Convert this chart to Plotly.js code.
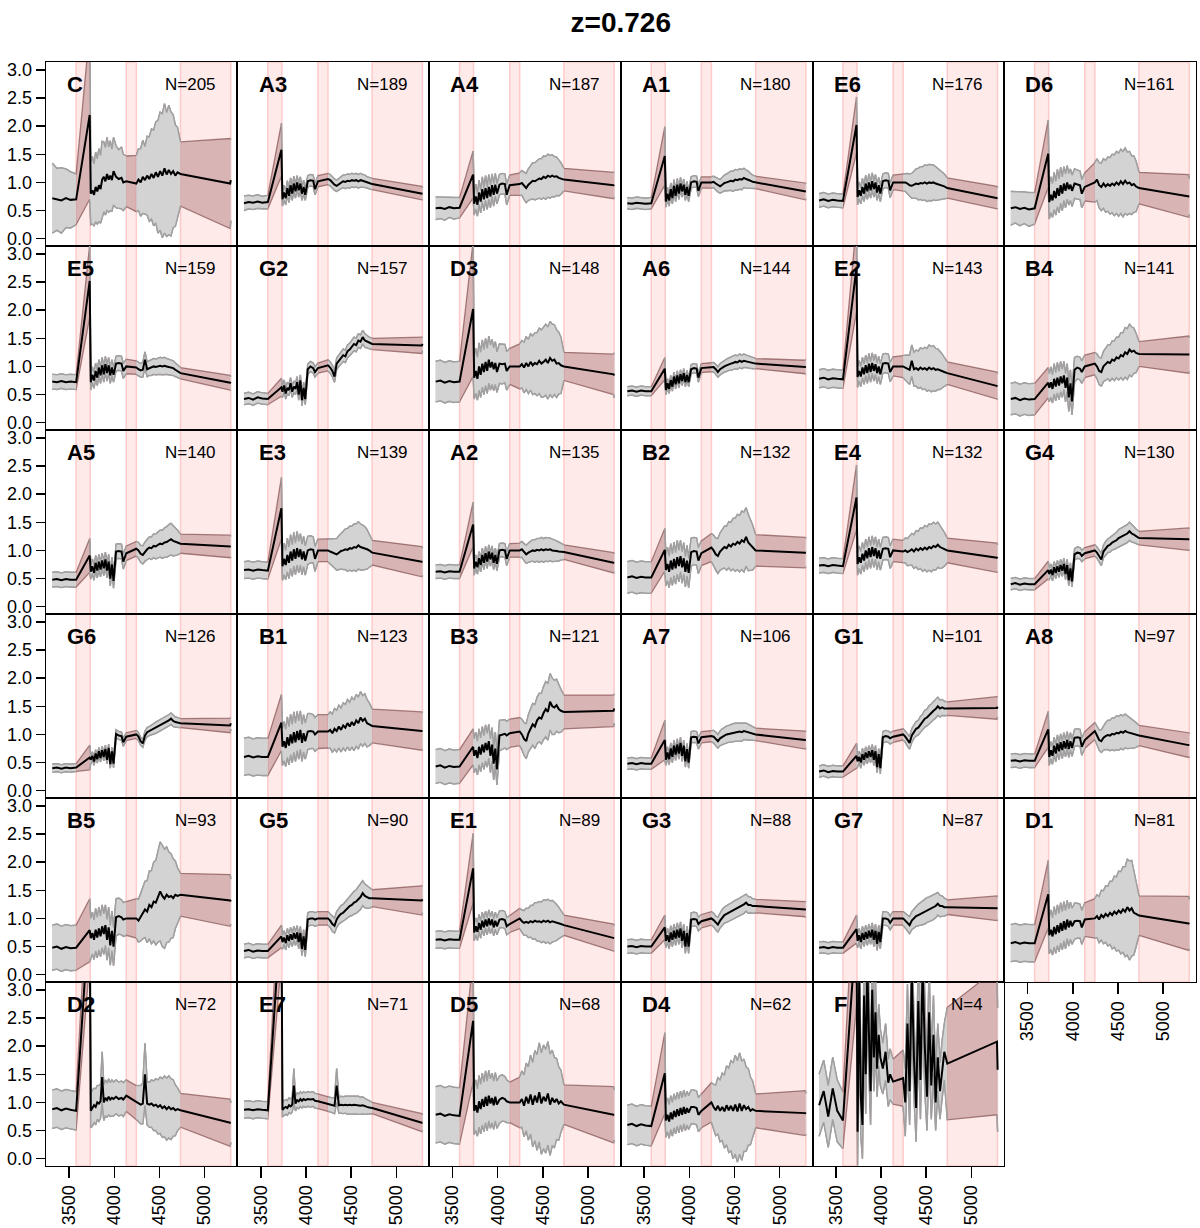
<!DOCTYPE html>
<html>
<head>
<meta charset="utf-8">
<script src="https://cdn.plot.ly/plotly-3.0.1.min.js"></script>
<style>body{margin:0;background:#fff}</style>
</head>
<body>
<div id="grid" style="width:1200px;height:1228px"></div>
<script>
// wavelength grid (A): blue side | after break | red side | last points
var wavelength = [3314,3365,3415,3465,3515,3578,
  3728,3740,3758,3776,3794,3812,3830,3848,3866,3884,3902,3920,3938,3956,3974,3992,4020,4050,4080,4100,4133,
  4244,4268,4292,4316,4340,4364,4388,4412,4436,4460,4484,4508,4532,4556,4580,4604,4628,4652,4676,4700,4733,
  5283,5290];
var maskedRanges = [[3578, 3733], [4133, 4244], [4733, 5289]];
var xTicks = [3500, 4000, 4500, 5000];
var yTicks = [0, 0.5, 1, 1.5, 2, 2.5, 3];

var panelNames = ['C','A3','A4','A1','E6','D6',
  'E5','G2','D3','A6','E2','B4',
  'A5','E3','A2','B2','E4','G4',
  'G6','B1','B3','A7','G1','A8',
  'B5','G5','E1','G3','G7','D1',
  'D2','E7','D5','D4','F'];
var panelCounts = [205,189,187,180,176,161,
  159,157,148,144,143,141,
  140,139,135,132,132,130,
  126,123,121,106,101,97,
  93,90,89,88,87,81,
  72,71,68,62,4];

var meanFlux = [
  // C
  [0.72,0.70,0.68,0.72,0.69,0.70,
   2.20,0.80,0.86,0.78,0.92,0.84,0.95,0.88,1.05,1.10,1.02,1.15,1.05,1.12,1.04,1.20,1.10,1.06,1.08,1.00,1.02,
   0.98,1.05,1.00,1.10,1.04,1.12,1.06,1.15,1.08,1.18,1.10,1.20,1.12,1.25,1.14,1.22,1.15,1.20,1.12,1.18,1.15,
   0.98,1.04],
  // A3
  [0.63,0.65,0.64,0.66,0.64,0.65,
   1.58,0.70,0.82,0.72,0.90,0.76,0.95,0.80,0.98,0.84,1.00,0.86,0.98,0.80,0.92,0.78,1.02,1.04,1.03,0.88,1.02,
   1.06,1.04,1.00,0.96,0.94,0.97,1.00,1.02,1.01,1.03,1.02,1.04,1.03,1.04,1.02,1.04,1.03,1.02,1.00,0.99,0.97,
   0.81,0.80],
  // A4
  [0.54,0.55,0.53,0.56,0.54,0.55,
   1.14,0.62,0.75,0.60,0.82,0.66,0.88,0.70,0.90,0.72,0.92,0.75,0.95,0.78,0.96,0.80,0.96,0.98,0.97,0.78,0.95,
   0.97,0.99,0.94,0.90,0.96,1.00,1.03,1.02,1.05,1.07,1.06,1.10,1.08,1.12,1.10,1.12,1.10,1.11,1.08,1.07,1.05,
   0.95,0.96],
  // A1
  [0.63,0.62,0.64,0.63,0.62,0.63,
   1.47,0.66,0.80,0.68,0.88,0.72,0.94,0.76,0.96,0.80,0.98,0.84,0.96,0.78,0.92,0.76,1.00,1.02,1.01,0.85,1.00,
   1.00,1.01,0.98,0.95,0.93,0.96,0.99,1.00,1.02,1.03,1.02,1.05,1.04,1.06,1.05,1.08,1.06,1.05,1.03,1.01,1.00,
   0.84,0.84],
  // E6
  [0.68,0.70,0.67,0.69,0.68,0.67,
   2.02,0.74,0.86,0.76,0.92,0.80,0.98,0.84,1.00,0.86,1.02,0.88,1.00,0.82,0.95,0.80,1.02,1.04,1.03,0.86,1.00,
   1.00,1.00,0.98,0.95,0.94,0.96,0.98,0.97,0.99,0.98,1.00,0.98,1.00,0.99,1.00,0.98,0.97,0.96,0.95,0.93,0.90,
   0.73,0.72],
  // D6
  [0.54,0.56,0.53,0.55,0.52,0.54,
   1.51,0.65,0.78,0.68,0.85,0.72,0.90,0.76,0.95,0.80,0.98,0.85,1.00,0.88,0.96,0.85,0.98,0.96,0.95,0.80,0.92,
   1.00,1.05,0.95,0.92,0.98,0.93,0.97,0.94,0.98,0.95,1.00,0.96,1.02,0.97,1.03,0.98,1.00,0.95,0.97,0.93,0.90,
   0.76,0.75],
  // E5
  [0.73,0.72,0.74,0.72,0.73,0.72,
   2.52,0.72,0.85,0.75,0.92,0.80,0.98,0.84,1.02,0.86,1.04,0.88,1.02,0.84,0.98,0.85,1.05,1.06,1.05,0.92,1.00,
   0.98,0.95,0.93,0.94,1.12,0.95,0.97,0.98,1.00,0.99,1.00,1.01,1.00,1.01,1.00,0.99,0.98,0.97,0.94,0.91,0.88,
   0.71,0.70],
  // G2
  [0.42,0.44,0.41,0.45,0.43,0.42,
   0.63,0.55,0.66,0.52,0.62,0.58,0.70,0.55,0.64,0.60,0.72,0.50,0.75,0.40,0.62,0.42,0.95,1.00,0.97,0.90,0.97,
   1.02,0.98,0.92,0.82,1.05,1.10,1.15,1.20,1.18,1.27,1.30,1.35,1.40,1.38,1.46,1.44,1.52,1.46,1.44,1.42,1.40,
   1.37,1.40],
  // D3
  [0.73,0.75,0.71,0.74,0.72,0.73,
   2.02,0.80,0.92,0.78,1.00,0.85,1.05,0.90,1.08,0.92,1.12,0.98,1.08,0.95,1.06,0.90,1.05,1.04,1.05,0.92,1.00,
   1.00,1.04,0.98,1.06,1.00,1.08,1.02,1.06,1.04,1.10,1.05,1.08,1.12,1.06,1.15,1.10,1.12,1.05,1.06,1.02,1.00,
   0.86,0.84],
  // A6
  [0.56,0.57,0.55,0.57,0.56,0.56,
   0.96,0.58,0.70,0.60,0.76,0.64,0.82,0.68,0.84,0.70,0.86,0.74,0.88,0.72,0.85,0.72,0.95,0.97,0.96,0.80,0.97,
   0.98,0.99,0.95,0.90,0.95,0.98,1.00,1.02,1.04,1.05,1.06,1.08,1.07,1.10,1.08,1.10,1.09,1.08,1.07,1.06,1.05,
   0.99,0.99],
  // E2
  [0.78,0.80,0.77,0.79,0.78,0.77,
   2.76,0.81,0.92,0.82,0.98,0.86,1.02,0.88,1.05,0.90,1.06,0.92,1.04,0.88,1.00,0.86,1.05,1.06,1.05,0.90,1.00,
   1.00,0.98,0.96,0.94,1.10,0.95,0.97,0.94,0.98,0.95,0.97,0.94,0.98,0.95,0.97,0.94,0.95,0.93,0.92,0.90,0.88,
   0.66,0.65],
  // B4
  [0.42,0.44,0.40,0.43,0.41,0.42,
   0.71,0.62,0.72,0.60,0.78,0.64,0.80,0.66,0.82,0.70,0.84,0.62,0.80,0.45,0.70,0.38,0.94,0.98,0.96,0.90,1.00,
   1.05,1.00,0.92,0.90,1.00,1.04,1.08,1.06,1.12,1.10,1.16,1.14,1.20,1.18,1.25,1.22,1.30,1.26,1.28,1.24,1.22,
   1.21,1.21],
  // A5
  [0.48,0.49,0.47,0.49,0.48,0.48,
   0.91,0.62,0.72,0.60,0.78,0.64,0.80,0.66,0.82,0.68,0.84,0.64,0.80,0.50,0.75,0.46,0.98,0.99,0.98,0.80,0.95,
   1.03,1.00,0.94,0.92,0.98,1.02,1.05,1.04,1.08,1.07,1.10,1.12,1.11,1.14,1.15,1.18,1.20,1.17,1.16,1.14,1.12,
   1.07,1.07],
  // E3
  [0.65,0.66,0.64,0.66,0.65,0.64,
   1.75,0.72,0.85,0.74,0.92,0.78,0.98,0.82,1.02,0.85,1.04,0.88,1.02,0.84,0.98,0.82,1.00,1.02,1.01,0.85,1.00,
   1.00,0.98,0.96,0.94,0.93,0.96,0.99,1.00,1.02,1.01,1.04,1.03,1.06,1.05,1.09,1.06,1.05,1.04,1.02,1.00,0.96,
   0.80,0.80],
  // A2
  [0.62,0.63,0.61,0.63,0.62,0.62,
   1.46,0.68,0.80,0.70,0.86,0.74,0.92,0.78,0.95,0.80,0.98,0.84,0.96,0.78,0.92,0.76,1.00,1.01,1.00,0.85,1.00,
   1.00,1.02,0.97,0.93,0.96,0.98,1.00,0.99,1.01,1.00,1.02,1.00,1.02,1.01,1.02,1.00,1.00,0.99,0.98,0.98,0.97,
   0.78,0.78],
  // B2
  [0.52,0.54,0.51,0.53,0.52,0.52,
   1.01,0.65,0.76,0.62,0.82,0.66,0.85,0.68,0.88,0.72,0.90,0.70,0.86,0.62,0.82,0.60,0.97,0.99,0.98,0.82,0.95,
   1.05,1.00,0.93,0.90,0.98,1.02,1.06,1.04,1.10,1.07,1.12,1.10,1.15,1.12,1.18,1.15,1.24,1.14,1.10,1.05,1.00,
   0.96,0.96],
  // E4
  [0.73,0.74,0.72,0.74,0.73,0.72,
   1.94,0.76,0.88,0.78,0.94,0.82,1.00,0.86,1.04,0.88,1.06,0.90,1.04,0.86,1.00,0.85,1.03,1.04,1.03,0.88,1.00,
   0.98,1.00,0.97,0.99,1.02,0.98,1.03,1.00,1.04,1.01,1.05,1.02,1.06,1.04,1.08,1.06,1.10,1.06,1.04,1.02,1.00,
   0.87,0.86],
  // G4
  [0.40,0.42,0.39,0.41,0.40,0.40,
   0.65,0.58,0.66,0.56,0.70,0.60,0.72,0.62,0.74,0.64,0.76,0.58,0.74,0.47,0.68,0.45,0.93,0.96,0.95,0.90,0.95,
   1.00,0.96,0.90,0.84,0.98,1.04,1.08,1.10,1.14,1.16,1.18,1.22,1.24,1.26,1.28,1.30,1.34,1.30,1.28,1.25,1.22,
   1.20,1.20],
  // G6
  [0.40,0.41,0.39,0.41,0.40,0.41,
   0.59,0.55,0.62,0.52,0.66,0.56,0.70,0.58,0.72,0.60,0.74,0.55,0.76,0.47,0.70,0.48,1.01,0.98,0.97,0.86,0.96,
   1.00,0.96,0.88,0.84,0.98,1.04,1.06,1.08,1.10,1.12,1.14,1.16,1.18,1.20,1.22,1.25,1.28,1.24,1.22,1.21,1.20,
   1.16,1.20],
  // B1
  [0.60,0.62,0.59,0.61,0.60,0.60,
   1.21,0.78,0.88,0.76,0.95,0.80,1.00,0.84,1.04,0.86,1.06,0.90,1.08,0.85,1.02,0.88,1.05,1.06,1.05,1.00,1.05,
   1.05,1.08,1.02,1.10,1.06,1.14,1.08,1.16,1.12,1.20,1.14,1.22,1.16,1.25,1.20,1.30,1.24,1.28,1.20,1.18,1.15,
   1.06,1.06],
  // B3
  [0.43,0.45,0.41,0.44,0.42,0.43,
   0.78,0.62,0.72,0.58,0.78,0.64,0.82,0.68,0.85,0.72,0.88,0.62,0.82,0.48,0.75,0.38,0.98,1.00,1.01,0.98,1.02,
   1.05,1.00,0.92,0.88,1.02,1.10,1.18,1.14,1.25,1.30,1.28,1.38,1.45,1.40,1.58,1.50,1.48,1.52,1.45,1.42,1.40,
   1.42,1.46],
  // A7
  [0.48,0.49,0.47,0.49,0.48,0.48,
   0.90,0.55,0.68,0.56,0.75,0.60,0.80,0.64,0.82,0.66,0.85,0.62,0.80,0.52,0.74,0.50,0.95,0.96,0.95,0.84,0.95,
   0.97,0.96,0.92,0.88,0.93,0.96,0.98,1.00,1.01,1.02,1.03,1.04,1.04,1.05,1.04,1.06,1.05,1.04,1.03,1.02,1.00,
   0.90,0.90],
  // G1
  [0.34,0.36,0.33,0.35,0.34,0.34,
   0.62,0.52,0.60,0.50,0.65,0.55,0.68,0.58,0.70,0.60,0.72,0.55,0.70,0.42,0.65,0.40,0.95,0.97,0.96,0.93,0.96,
   1.00,0.96,0.90,0.85,0.98,1.05,1.10,1.12,1.18,1.22,1.28,1.30,1.35,1.38,1.42,1.45,1.50,1.46,1.48,1.46,1.46,
   1.47,1.49],
  // A8
  [0.53,0.54,0.52,0.54,0.53,0.53,
   1.09,0.60,0.72,0.62,0.80,0.66,0.84,0.70,0.86,0.72,0.88,0.75,0.90,0.74,0.88,0.76,0.94,0.95,0.94,0.78,0.90,
   1.06,0.98,0.90,0.88,0.94,0.97,0.99,0.98,1.01,1.00,1.03,1.02,1.05,1.03,1.06,1.04,1.03,1.02,1.00,0.99,0.98,
   0.81,0.81],
  // B5
  [0.48,0.50,0.46,0.49,0.47,0.48,
   0.79,0.65,0.74,0.62,0.80,0.66,0.82,0.68,0.86,0.72,0.88,0.62,0.84,0.52,0.78,0.50,1.02,1.04,1.02,0.98,1.00,
   1.00,0.96,1.02,1.10,1.16,1.12,1.24,1.20,1.30,1.28,1.38,1.48,1.40,1.35,1.42,1.38,1.40,1.36,1.42,1.40,1.42,
   1.32,1.30],
  // G5
  [0.42,0.44,0.41,0.43,0.42,0.42,
   0.68,0.58,0.66,0.56,0.70,0.60,0.72,0.62,0.74,0.64,0.75,0.58,0.74,0.46,0.68,0.44,0.98,1.00,1.00,0.98,1.00,
   1.00,0.96,0.90,0.87,0.98,1.04,1.08,1.10,1.14,1.18,1.22,1.24,1.28,1.30,1.34,1.38,1.45,1.40,1.38,1.36,1.36,
   1.32,1.34],
  // E1
  [0.62,0.63,0.61,0.63,0.62,0.62,
   1.89,0.75,0.86,0.76,0.92,0.80,0.96,0.84,0.98,0.86,1.00,0.88,0.98,0.84,0.96,0.86,0.98,0.99,0.97,0.86,0.90,
   1.00,0.95,0.92,0.94,0.92,0.95,0.93,0.96,0.94,0.95,0.93,0.96,0.94,0.96,0.93,0.95,0.94,0.93,0.92,0.90,0.88,
   0.66,0.65],
  // G3
  [0.50,0.51,0.49,0.51,0.50,0.50,
   0.84,0.60,0.70,0.58,0.75,0.62,0.78,0.64,0.80,0.66,0.82,0.60,0.78,0.50,0.74,0.50,0.98,0.99,0.98,0.90,0.95,
   1.00,0.97,0.92,0.89,0.96,1.02,1.06,1.08,1.10,1.12,1.14,1.16,1.18,1.20,1.22,1.25,1.28,1.24,1.24,1.22,1.22,
   1.16,1.16],
  // G7
  [0.48,0.49,0.47,0.49,0.48,0.48,
   0.81,0.60,0.70,0.58,0.74,0.62,0.76,0.64,0.78,0.66,0.80,0.62,0.78,0.55,0.76,0.58,1.00,1.00,0.98,0.92,1.00,
   1.00,0.96,0.92,0.88,0.96,1.00,1.04,1.06,1.08,1.10,1.12,1.15,1.16,1.18,1.20,1.22,1.26,1.22,1.22,1.20,1.20,
   1.18,1.18],
  // D1
  [0.56,0.58,0.55,0.57,0.56,0.56,
   1.43,0.70,0.80,0.68,0.85,0.72,0.88,0.75,0.92,0.78,0.95,0.80,0.98,0.84,0.96,0.86,0.95,0.96,0.95,0.84,0.98,
   1.00,1.04,0.98,1.06,1.02,1.08,1.04,1.10,1.06,1.12,1.08,1.14,1.10,1.16,1.12,1.20,1.14,1.18,1.10,1.08,1.05,
   0.91,0.90],
  // D2
  [0.88,0.90,0.86,0.89,0.87,0.85,
   4.50,0.85,0.90,0.95,0.92,1.00,0.98,1.02,1.45,1.00,1.08,1.04,1.10,1.05,1.08,1.06,1.10,1.06,1.08,1.05,1.12,
   1.00,0.98,0.96,0.98,1.50,0.98,0.96,0.98,0.94,0.96,0.92,0.95,0.90,0.93,0.88,0.92,0.88,0.90,0.86,0.88,0.86,
   0.64,0.64],
  // E7
  [0.87,0.88,0.86,0.88,0.87,0.86,
   4.50,0.87,0.90,0.92,0.90,0.95,0.93,0.96,1.30,0.98,1.04,1.02,1.06,1.03,1.06,1.04,1.06,1.05,1.06,1.03,1.02,
   0.97,0.96,0.95,0.94,1.30,0.95,0.96,0.95,0.96,0.95,0.96,0.95,0.96,0.95,0.95,0.94,0.95,0.93,0.92,0.91,0.90,
   0.64,0.64],
  // D5
  [0.78,0.80,0.76,0.79,0.77,0.76,
   2.45,0.85,0.95,0.82,1.02,0.88,1.06,0.92,1.10,0.94,1.12,0.98,1.08,0.95,1.10,0.96,1.05,1.08,1.06,1.02,1.00,
   1.00,1.06,0.94,1.10,0.98,1.14,0.96,1.12,1.00,1.18,0.98,1.10,1.02,1.16,0.96,1.08,1.00,1.06,0.98,1.02,0.96,
   0.78,0.78],
  // D4
  [0.60,0.62,0.58,0.61,0.59,0.58,
   1.52,0.68,0.78,0.66,0.82,0.70,0.85,0.74,0.88,0.76,0.90,0.78,0.92,0.80,0.90,0.82,0.92,0.92,0.90,0.78,0.85,
   1.00,0.92,0.86,0.94,0.85,0.92,0.84,0.95,0.86,0.94,0.85,0.96,0.84,0.98,0.85,0.95,0.88,0.92,0.85,0.88,0.85,
   0.81,0.80],
  // F
  [0.95,1.20,0.75,1.25,0.85,0.68,
   4.20,0.48,3.20,1.10,0.60,2.90,1.50,3.40,2.20,1.20,3.00,1.80,2.60,1.60,2.20,1.80,1.60,1.90,1.35,1.50,1.37,
   1.43,1.00,2.40,1.20,3.30,1.80,0.90,2.80,1.40,3.40,2.00,1.10,2.60,1.30,2.20,1.00,1.80,1.20,1.60,1.90,1.69,
   2.08,1.58]
];

var fluxSpread = [
  // C
  [0.62,0.55,0.58,0.52,0.50,0.45,
   1.50,0.55,0.60,0.55,0.62,0.58,0.65,0.60,0.68,0.62,0.60,0.65,0.58,0.62,0.55,0.60,0.55,0.52,0.55,0.50,0.45,
   0.50,0.55,0.60,0.65,0.60,0.70,0.75,0.80,0.85,0.90,1.00,1.05,1.10,1.15,1.10,1.15,1.10,1.00,0.90,0.80,0.57,
   0.80,0.72],
  // A3
  [0.13,0.12,0.12,0.12,0.11,0.12,
   0.47,0.12,0.13,0.12,0.13,0.12,0.13,0.12,0.13,0.12,0.12,0.12,0.12,0.12,0.12,0.10,0.10,0.10,0.10,0.10,0.10,
   0.10,0.10,0.10,0.10,0.10,0.10,0.11,0.11,0.12,0.12,0.12,0.12,0.12,0.12,0.12,0.12,0.11,0.11,0.10,0.10,0.10,
   0.12,0.10],
  // A4
  [0.20,0.19,0.20,0.18,0.19,0.18,
   0.42,0.20,0.22,0.20,0.22,0.20,0.22,0.20,0.22,0.20,0.22,0.20,0.20,0.20,0.20,0.18,0.18,0.18,0.18,0.18,0.18,
   0.20,0.22,0.24,0.26,0.28,0.30,0.32,0.33,0.34,0.35,0.36,0.37,0.38,0.38,0.38,0.37,0.36,0.34,0.32,0.28,0.20,
   0.24,0.22],
  // A1
  [0.10,0.10,0.10,0.10,0.10,0.10,
   0.52,0.10,0.11,0.10,0.11,0.10,0.11,0.10,0.11,0.10,0.11,0.10,0.10,0.10,0.10,0.10,0.10,0.10,0.10,0.10,0.10,
   0.10,0.10,0.11,0.12,0.12,0.13,0.14,0.15,0.16,0.17,0.18,0.18,0.18,0.18,0.18,0.17,0.16,0.15,0.13,0.12,0.11,
   0.15,0.13],
  // E6
  [0.12,0.12,0.12,0.12,0.12,0.12,
   0.50,0.14,0.15,0.14,0.15,0.14,0.15,0.14,0.15,0.14,0.15,0.14,0.14,0.14,0.14,0.14,0.13,0.13,0.13,0.13,0.13,
   0.15,0.16,0.18,0.20,0.22,0.24,0.26,0.28,0.29,0.30,0.31,0.32,0.32,0.32,0.31,0.30,0.28,0.26,0.24,0.22,0.18,
   0.20,0.18],
  // D6
  [0.30,0.28,0.30,0.28,0.30,0.28,
   0.60,0.30,0.32,0.30,0.33,0.30,0.33,0.30,0.32,0.30,0.30,0.30,0.30,0.28,0.28,0.28,0.26,0.26,0.25,0.25,0.25,
   0.35,0.37,0.40,0.42,0.44,0.46,0.48,0.50,0.52,0.54,0.55,0.56,0.57,0.58,0.58,0.56,0.55,0.52,0.50,0.45,0.28,
   0.38,0.32],
  // E5
  [0.13,0.13,0.13,0.13,0.13,0.13,
   0.65,0.14,0.14,0.14,0.14,0.14,0.14,0.14,0.14,0.14,0.14,0.14,0.14,0.14,0.14,0.13,0.13,0.13,0.13,0.13,0.13,
   0.12,0.12,0.12,0.13,0.14,0.13,0.13,0.14,0.14,0.14,0.14,0.15,0.15,0.15,0.14,0.14,0.13,0.13,0.12,0.11,0.10,
   0.13,0.12],
  // G2
  [0.10,0.10,0.10,0.10,0.10,0.10,
   0.16,0.10,0.10,0.10,0.10,0.10,0.10,0.10,0.10,0.10,0.10,0.10,0.10,0.10,0.10,0.10,0.09,0.09,0.09,0.09,0.09,
   0.10,0.10,0.10,0.10,0.10,0.10,0.10,0.11,0.11,0.11,0.11,0.12,0.12,0.12,0.12,0.12,0.12,0.12,0.11,0.10,0.10,
   0.14,0.12],
  // D3
  [0.36,0.36,0.36,0.36,0.36,0.36,
   1.20,0.38,0.40,0.38,0.42,0.40,0.42,0.40,0.42,0.40,0.42,0.40,0.40,0.38,0.38,0.36,0.35,0.35,0.34,0.34,0.32,
   0.40,0.42,0.45,0.47,0.48,0.50,0.52,0.54,0.56,0.58,0.60,0.62,0.63,0.64,0.65,0.65,0.62,0.60,0.55,0.50,0.25,
   0.36,0.40],
  // A6
  [0.08,0.08,0.08,0.08,0.08,0.08,
   0.20,0.08,0.08,0.08,0.08,0.08,0.08,0.08,0.08,0.08,0.08,0.08,0.08,0.08,0.08,0.08,0.08,0.08,0.08,0.08,0.08,
   0.08,0.08,0.09,0.09,0.10,0.10,0.10,0.11,0.11,0.12,0.12,0.12,0.12,0.12,0.12,0.12,0.11,0.11,0.10,0.10,0.09,
   0.13,0.12],
  // E2
  [0.16,0.16,0.16,0.16,0.16,0.16,
   0.80,0.18,0.18,0.18,0.18,0.18,0.18,0.18,0.18,0.18,0.18,0.18,0.18,0.18,0.18,0.18,0.17,0.17,0.17,0.17,0.17,
   0.20,0.22,0.24,0.26,0.28,0.30,0.32,0.33,0.35,0.36,0.37,0.38,0.40,0.40,0.40,0.38,0.36,0.34,0.30,0.26,0.20,
   0.24,0.22],
  // B4
  [0.28,0.28,0.28,0.28,0.28,0.28,
   0.27,0.25,0.27,0.25,0.27,0.25,0.27,0.25,0.27,0.25,0.25,0.25,0.25,0.25,0.24,0.24,0.22,0.20,0.20,0.20,0.20,
   0.20,0.22,0.24,0.25,0.27,0.28,0.30,0.32,0.33,0.35,0.36,0.38,0.40,0.42,0.44,0.45,0.45,0.44,0.40,0.35,0.22,
   0.33,0.30],
  // A5
  [0.13,0.13,0.13,0.13,0.13,0.13,
   0.30,0.13,0.13,0.13,0.13,0.13,0.13,0.13,0.13,0.13,0.13,0.13,0.13,0.13,0.13,0.13,0.13,0.13,0.13,0.13,0.13,
   0.13,0.14,0.15,0.16,0.17,0.18,0.19,0.20,0.21,0.22,0.23,0.24,0.25,0.26,0.27,0.28,0.28,0.27,0.25,0.22,0.17,
   0.20,0.18],
  // E3
  [0.15,0.15,0.15,0.15,0.15,0.15,
   0.55,0.25,0.28,0.26,0.30,0.28,0.30,0.28,0.30,0.28,0.30,0.28,0.28,0.27,0.27,0.26,0.25,0.24,0.23,0.22,0.20,
   0.20,0.22,0.24,0.26,0.28,0.30,0.32,0.34,0.36,0.38,0.39,0.40,0.41,0.42,0.42,0.41,0.40,0.38,0.35,0.30,0.22,
   0.27,0.24],
  // A2
  [0.12,0.12,0.12,0.12,0.12,0.12,
   0.40,0.12,0.12,0.12,0.12,0.12,0.12,0.12,0.12,0.12,0.12,0.12,0.12,0.12,0.12,0.12,0.12,0.12,0.12,0.12,0.12,
   0.13,0.14,0.15,0.16,0.17,0.18,0.19,0.20,0.20,0.21,0.21,0.21,0.21,0.21,0.20,0.20,0.19,0.18,0.17,0.15,0.13,
   0.18,0.16],
  // B2
  [0.28,0.28,0.28,0.28,0.28,0.28,
   0.38,0.28,0.30,0.28,0.30,0.28,0.30,0.28,0.30,0.28,0.28,0.28,0.28,0.27,0.27,0.26,0.25,0.24,0.24,0.23,0.22,
   0.25,0.27,0.29,0.31,0.33,0.35,0.37,0.39,0.41,0.43,0.45,0.47,0.49,0.50,0.52,0.53,0.52,0.50,0.45,0.40,0.28,
   0.27,0.25],
  // E4
  [0.13,0.13,0.13,0.13,0.13,0.13,
   0.58,0.20,0.20,0.20,0.20,0.20,0.20,0.20,0.20,0.20,0.20,0.20,0.20,0.20,0.20,0.20,0.20,0.20,0.20,0.20,0.20,
   0.20,0.22,0.24,0.26,0.28,0.30,0.32,0.34,0.36,0.38,0.39,0.40,0.41,0.42,0.42,0.41,0.40,0.38,0.35,0.30,0.22,
   0.26,0.24],
  // G4
  [0.10,0.10,0.10,0.10,0.10,0.10,
   0.16,0.10,0.10,0.10,0.10,0.10,0.10,0.10,0.10,0.10,0.10,0.10,0.10,0.10,0.10,0.10,0.10,0.10,0.10,0.10,0.10,
   0.10,0.10,0.10,0.11,0.11,0.12,0.12,0.13,0.13,0.14,0.14,0.15,0.15,0.16,0.16,0.16,0.16,0.15,0.14,0.13,0.12,
   0.20,0.18],
  // G6
  [0.07,0.07,0.07,0.07,0.07,0.07,
   0.22,0.07,0.07,0.07,0.07,0.07,0.07,0.07,0.07,0.07,0.07,0.07,0.07,0.07,0.07,0.07,0.07,0.07,0.07,0.07,0.07,
   0.07,0.07,0.07,0.07,0.08,0.08,0.08,0.09,0.09,0.10,0.10,0.10,0.10,0.10,0.10,0.10,0.10,0.10,0.09,0.09,0.08,
   0.13,0.10],
  // B1
  [0.33,0.33,0.33,0.33,0.33,0.33,
   0.50,0.33,0.35,0.33,0.36,0.34,0.36,0.34,0.36,0.34,0.35,0.34,0.34,0.33,0.33,0.32,0.32,0.31,0.30,0.30,0.30,
   0.30,0.32,0.34,0.36,0.37,0.38,0.39,0.40,0.41,0.42,0.43,0.44,0.45,0.46,0.46,0.46,0.45,0.44,0.42,0.38,0.30,
   0.34,0.32],
  // B3
  [0.30,0.30,0.30,0.30,0.30,0.30,
   0.32,0.30,0.32,0.30,0.32,0.30,0.32,0.30,0.32,0.30,0.30,0.30,0.30,0.29,0.29,0.28,0.27,0.26,0.25,0.25,0.25,
   0.25,0.27,0.29,0.31,0.33,0.35,0.37,0.39,0.41,0.43,0.45,0.47,0.49,0.50,0.50,0.50,0.48,0.46,0.42,0.38,0.30,
   0.28,0.26],
  // A7
  [0.10,0.10,0.10,0.10,0.10,0.10,
   0.35,0.10,0.10,0.10,0.10,0.10,0.10,0.10,0.10,0.10,0.10,0.10,0.10,0.10,0.10,0.10,0.10,0.10,0.10,0.10,0.10,
   0.10,0.11,0.12,0.12,0.13,0.14,0.14,0.15,0.15,0.16,0.16,0.16,0.16,0.16,0.16,0.15,0.15,0.14,0.13,0.12,0.11,
   0.16,0.14],
  // G1
  [0.10,0.10,0.10,0.10,0.10,0.10,
   0.22,0.10,0.10,0.10,0.10,0.10,0.10,0.10,0.10,0.10,0.10,0.10,0.10,0.10,0.10,0.10,0.10,0.10,0.10,0.10,0.10,
   0.10,0.10,0.11,0.11,0.12,0.12,0.13,0.13,0.14,0.14,0.15,0.15,0.16,0.16,0.16,0.16,0.16,0.15,0.14,0.13,0.12,
   0.20,0.18],
  // A8
  [0.12,0.12,0.12,0.12,0.12,0.12,
   0.32,0.15,0.15,0.15,0.15,0.15,0.15,0.15,0.15,0.15,0.15,0.15,0.15,0.15,0.15,0.15,0.15,0.15,0.15,0.15,0.15,
   0.15,0.16,0.18,0.20,0.22,0.24,0.26,0.27,0.28,0.29,0.30,0.30,0.30,0.30,0.30,0.29,0.28,0.26,0.24,0.22,0.18,
   0.22,0.20],
  // B5
  [0.40,0.40,0.40,0.40,0.40,0.40,
   0.56,0.35,0.37,0.35,0.38,0.36,0.38,0.36,0.38,0.36,0.36,0.36,0.36,0.35,0.35,0.34,0.33,0.32,0.31,0.30,0.30,
   0.35,0.38,0.42,0.46,0.50,0.55,0.60,0.65,0.70,0.75,0.80,0.88,0.90,0.88,0.85,0.80,0.75,0.70,0.60,0.50,0.38,
   0.46,0.40],
  // G5
  [0.12,0.12,0.12,0.12,0.12,0.12,
   0.20,0.12,0.12,0.12,0.12,0.12,0.12,0.12,0.12,0.12,0.12,0.12,0.12,0.12,0.12,0.12,0.12,0.12,0.12,0.12,0.12,
   0.12,0.12,0.13,0.13,0.14,0.14,0.15,0.15,0.16,0.17,0.18,0.19,0.20,0.21,0.22,0.22,0.22,0.21,0.20,0.18,0.15,
   0.26,0.24],
  // E1
  [0.15,0.15,0.15,0.15,0.15,0.15,
   0.62,0.15,0.15,0.15,0.15,0.15,0.15,0.15,0.15,0.15,0.15,0.15,0.15,0.15,0.15,0.15,0.15,0.15,0.15,0.15,0.15,
   0.18,0.20,0.22,0.24,0.26,0.28,0.30,0.32,0.34,0.35,0.36,0.37,0.38,0.38,0.38,0.37,0.35,0.32,0.28,0.24,0.18,
   0.24,0.22],
  // G3
  [0.12,0.12,0.12,0.12,0.12,0.12,
   0.22,0.12,0.12,0.12,0.12,0.12,0.12,0.12,0.12,0.12,0.12,0.12,0.12,0.12,0.12,0.12,0.12,0.12,0.12,0.12,0.12,
   0.12,0.12,0.12,0.13,0.13,0.14,0.14,0.15,0.15,0.15,0.16,0.16,0.16,0.16,0.16,0.16,0.15,0.15,0.14,0.13,0.12,
   0.14,0.13],
  // G7
  [0.10,0.10,0.10,0.10,0.10,0.10,
   0.25,0.12,0.12,0.12,0.12,0.12,0.12,0.12,0.12,0.12,0.12,0.12,0.12,0.12,0.12,0.12,0.12,0.12,0.12,0.12,0.12,
   0.12,0.13,0.14,0.15,0.16,0.17,0.18,0.19,0.20,0.21,0.22,0.22,0.22,0.22,0.22,0.21,0.20,0.19,0.18,0.16,0.13,
   0.22,0.20],
  // D1
  [0.33,0.33,0.33,0.33,0.33,0.33,
   0.60,0.33,0.35,0.33,0.36,0.34,0.36,0.34,0.36,0.34,0.35,0.34,0.34,0.33,0.33,0.32,0.32,0.31,0.30,0.30,0.30,
   0.35,0.38,0.41,0.44,0.47,0.50,0.53,0.56,0.60,0.63,0.66,0.70,0.73,0.76,0.80,0.85,0.88,0.85,0.75,0.60,0.35,
   0.48,0.44],
  // D2
  [0.34,0.34,0.34,0.34,0.34,0.34,
   1.00,0.30,0.32,0.30,0.32,0.30,0.32,0.30,0.45,0.32,0.32,0.30,0.32,0.30,0.32,0.30,0.30,0.30,0.30,0.30,0.28,
   0.30,0.32,0.34,0.36,0.55,0.38,0.40,0.42,0.44,0.46,0.48,0.50,0.52,0.54,0.55,0.55,0.54,0.50,0.45,0.38,0.30,
   0.42,0.35],
  // E7
  [0.15,0.15,0.15,0.15,0.15,0.15,
   1.00,0.13,0.13,0.13,0.13,0.13,0.13,0.13,0.30,0.13,0.13,0.13,0.13,0.13,0.13,0.13,0.13,0.13,0.13,0.13,0.13,
   0.12,0.13,0.13,0.14,0.30,0.14,0.15,0.15,0.15,0.16,0.16,0.16,0.16,0.16,0.16,0.15,0.15,0.14,0.13,0.12,0.10,
   0.16,0.14],
  // D5
  [0.50,0.50,0.50,0.50,0.50,0.50,
   1.10,0.42,0.45,0.42,0.46,0.44,0.46,0.44,0.46,0.44,0.45,0.44,0.44,0.43,0.43,0.42,0.42,0.41,0.40,0.38,0.36,
   0.45,0.50,0.55,0.60,0.65,0.70,0.75,0.80,0.85,0.88,0.90,0.92,0.92,0.92,0.90,0.85,0.80,0.72,0.65,0.55,0.35,
   0.50,0.45],
  // D4
  [0.35,0.35,0.35,0.35,0.35,0.35,
   0.72,0.30,0.30,0.30,0.30,0.30,0.30,0.30,0.30,0.30,0.30,0.30,0.30,0.30,0.30,0.30,0.30,0.30,0.30,0.30,0.30,
   0.35,0.40,0.45,0.50,0.55,0.60,0.65,0.70,0.75,0.80,0.85,0.88,0.90,0.90,0.88,0.82,0.75,0.68,0.60,0.50,0.30,
   0.40,0.36],
  // F
  [0.55,0.55,0.55,0.55,0.55,0.50,
   1.50,0.60,0.80,0.70,0.60,0.80,0.70,0.80,0.70,0.60,0.70,0.60,0.60,0.50,0.55,0.50,0.45,0.50,0.42,0.45,0.40,
   0.50,0.60,0.70,0.60,0.80,0.70,0.60,0.80,0.70,0.90,0.80,0.60,0.80,0.60,0.70,0.50,0.60,0.50,0.50,0.50,1.00,
   1.30,1.10]
];

// index ranges of the measured (non-masked) stretches
var segments = [[0, 5], [6, 26], [27, 47], [48, 49]];

var FONT = 'Liberation Sans, Arial, Helvetica, sans-serif';
var nCols = 6;
var colLeft = 45.7, colW = 191.7, rowTop = 62, rowH = 184;
var W = 1200, H = 1228;

panelNames.forEach(function (name, k) {
  if (meanFlux[k].length !== wavelength.length || fluxSpread[k].length !== wavelength.length) {
    throw new Error('length mismatch in ' + name + ': ' + meanFlux[k].length + '/' + fluxSpread[k].length);
  }
});

var data = [];
var shapes = [];
var annotations = [];
var layout = {
  width: W, height: H,
  margin: {l: 0, r: 0, t: 0, b: 0},
  paper_bgcolor: 'white', plot_bgcolor: 'white',
  showlegend: false, hovermode: false,
  font: {family: FONT, color: 'black'},
  title: {
    text: '<b>z=0.726</b>', xref: 'paper', yref: 'paper',
    x: (colLeft + nCols * colW / 2) / W, xanchor: 'center',
    y: 1 - 22 / H, yanchor: 'middle',
    font: {family: FONT, size: 28, color: 'black'}
  }
};

panelNames.forEach(function (name, k) {
  var r = Math.floor(k / nCols), c = k % nCols;
  var n = k + 1;
  var xa = 'x' + (n > 1 ? n : ''), ya = 'y' + (n > 1 ? n : '');
  var showX = (r === 5) || (c === 5 && r === 4);
  var showY = (c === 0);
  var x0 = colLeft + c * colW, top = rowTop + r * rowH;

  layout['xaxis' + (n > 1 ? n : '')] = {
    domain: [x0 / W, (x0 + colW) / W], anchor: ya,
    range: [3241, 5363], showgrid: false, zeroline: false,
    showline: true, mirror: true, linecolor: 'black', linewidth: 1,
    ticks: showX ? 'outside' : '', ticklen: 11, tickwidth: 1.5, tickcolor: 'black',
    tickvals: xTicks, ticktext: xTicks.map(String), showticklabels: showX,
    tickangle: -90, tickfont: {family: FONT, size: 18, color: 'black'}
  };
  layout['yaxis' + (n > 1 ? n : '')] = {
    domain: [1 - (top + rowH) / H, 1 - top / H], anchor: xa,
    range: [-0.13, 3.14], showgrid: false, zeroline: false,
    showline: true, mirror: true, linecolor: 'black', linewidth: 1,
    ticks: showY ? 'outside' : '', ticklen: 9, tickwidth: 1.5, tickcolor: 'black',
    tickvals: yTicks, ticktext: yTicks.map(function (v) { return v.toFixed(1); }),
    showticklabels: showY, tickfont: {family: FONT, size: 18, color: 'black'}
  };

  maskedRanges.forEach(function (m) {
    shapes.push({
      type: 'rect', layer: 'below', xref: xa, yref: ya + ' domain',
      x0: m[0], x1: m[1], y0: 0, y1: 1,
      fillcolor: '#ffeaea', line: {color: '#ffcaca', width: 1.5}
    });
  });

  var mean = meanFlux[k], spread = fluxSpread[k];
  var lo = mean.map(function (v, i) { return v - spread[i]; });
  var hi = mean.map(function (v, i) { return v + spread[i]; });

  // brownish band across the whole range (shows through in the masked gaps)
  data.push({
    x: wavelength.concat(wavelength.slice().reverse()),
    y: hi.concat(lo.slice().reverse()),
    xaxis: xa, yaxis: ya, mode: 'lines', fill: 'toself',
    fillcolor: 'rgba(140,70,70,0.33)', line: {width: 0}
  });
  data.push({
    x: wavelength.concat([null], wavelength),
    y: lo.concat([null], hi),
    xaxis: xa, yaxis: ya, mode: 'lines',
    line: {color: 'rgba(130,80,80,0.7)', width: 1.3}
  });

  // grey band on measured stretches
  var px = [], py = [], ex = [], ey = [];
  segments.forEach(function (s) {
    var xs = wavelength.slice(s[0], s[1] + 1);
    var l = lo.slice(s[0], s[1] + 1), h = hi.slice(s[0], s[1] + 1);
    px = px.concat(xs, xs.slice().reverse(), [null]);
    py = py.concat(h, l.slice().reverse(), [null]);
    ex = ex.concat(xs, [null], xs, [null]);
    ey = ey.concat(l, [null], h, [null]);
  });
  data.push({
    x: px, y: py, xaxis: xa, yaxis: ya, mode: 'lines', fill: 'toself',
    fillcolor: '#d3d3d3', line: {width: 0}
  });
  data.push({
    x: ex, y: ey, xaxis: xa, yaxis: ya, mode: 'lines',
    line: {color: '#a0a0a0', width: 1.5}
  });

  data.push({
    x: wavelength, y: mean, xaxis: xa, yaxis: ya, mode: 'lines',
    line: {color: 'black', width: 2}
  });

  annotations.push({
    xref: xa + ' domain', yref: ya + ' domain', x: 0.1, y: 0.878,
    xanchor: 'left', yanchor: 'middle', showarrow: false,
    text: '<b>' + name + '</b>', font: {family: FONT, size: 22, color: 'black'}
  });
  annotations.push({
    xref: xa + ' domain', yref: ya + ' domain', x: 0.9, y: 0.878,
    xanchor: 'right', yanchor: 'middle', showarrow: false,
    text: 'N=' + panelCounts[k], font: {family: FONT, size: 17, color: 'black'}
  });
});

layout.shapes = shapes;
layout.annotations = annotations;

Plotly.newPlot('grid', data, layout, {staticPlot: true, displayModeBar: false});
</script>
</body>
</html>
